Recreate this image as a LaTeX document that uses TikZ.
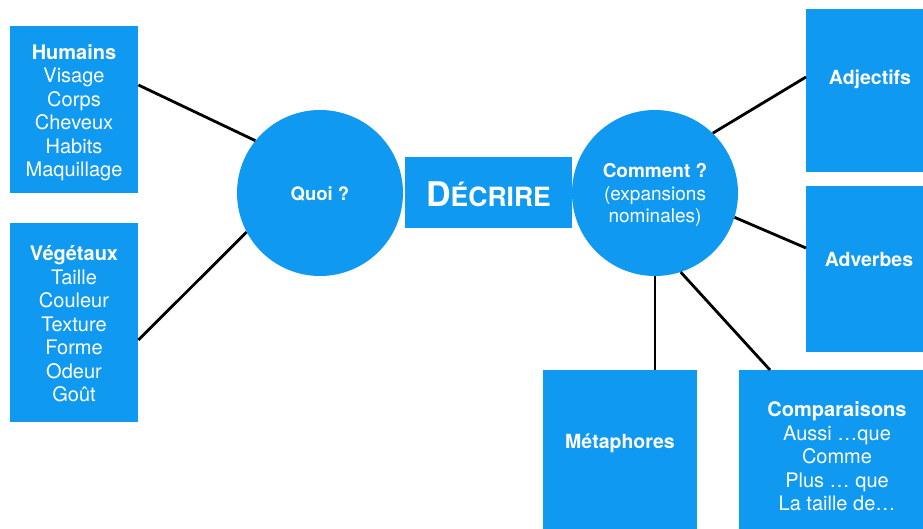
\documentclass[tikz,border=0pt]{standalone}
\usepackage{fontspec}
\setmainfont{TeX Gyre Heros}
\usetikzlibrary{calc}
\definecolor{blu}{RGB}{16,153,240}
\begin{document}
\begin{tikzpicture}[x=1pt,y=-1pt,
  box/.style={fill=blu, draw=none, inner sep=0pt, anchor=north west},
  circ/.style={circle, fill=blu, draw=none, minimum size=166pt, inner sep=0pt},
  txt/.style={text=white, align=center, font=\fontsize{20}{23.5}\selectfont, inner sep=0pt},
  conn/.style={draw=black, line width=2.8pt}]
\useasboundingbox (0,0) rectangle (923,528);
\clip (0,0) rectangle (923,528);
\fill[white] (0,0) rectangle (923,528);
% boxes
\node[box, minimum width=128pt, minimum height=167pt] (hum) at (10,26) {};
\node[box, minimum width=128pt, minimum height=199pt] (veg) at (10,223) {};
\node[box, minimum width=130pt, minimum height=163pt] (adj) at (806,9) {};
\node[box, minimum width=130pt, minimum height=166pt] (adv) at (806,186) {};
\node[box, minimum width=154pt, minimum height=170pt] (met) at (543,370) {};
\node[box, minimum width=196pt, minimum height=170pt] (comp) at (739,370) {};
\node[circ] (quoi) at (320,193) {};
\node[circ] (comm) at (655,193) {};
\node[fill=blu, minimum width=167pt, minimum height=71pt, inner sep=0pt] (decr) at (488.5,192.5) {};
% connectors
\draw[conn] ($(hum.north east)+(0,59)$) -- (quoi.141);
\draw[conn] ($(veg.north east)+(0,117)$) -- (quoi.208);
\draw[conn] (comm.46) -- ($(adj.north west)+(0,68)$);
\draw[conn] (comm.-17) -- ($(adv.north west)+(0,62)$);
\draw[conn] (comm.-90) -- (comm.-90 |- met.north);
\draw[conn] (comm.-72) -- ($(comp.north west)+(31,0)$);
% texts
\node[txt] (humt) at (74,112.5) {\textbf{Humains}\\Visage\\Corps\\Cheveux\\Habits\\Maquillage};
\node[txt] (vegt) at (74,324) {\textbf{Végétaux}\\Taille\\Couleur\\Texture\\Forme\\Odeur\\Goût};
\node[txt, font=\bfseries\fontsize{18.5}{22}\selectfont] (quoit) at (320,194) {Quoi ?};
\node[txt, font=\fontsize{19}{22.5}\selectfont] (commt) at (655,195) {\textbf{Comment ?}\\(expansions\\nominales)};
\node[txt] (decrt) at (488.5,194) {\bfseries\fontsize{34}{34}\selectfont D\fontsize{26.5}{26.5}\selectfont ÉCRIRE};
\node[txt, font=\bfseries\fontsize{19.5}{23.5}\selectfont] (adjt) at (870,79) {Adjectifs};
\node[txt, font=\bfseries\fontsize{19.5}{23.5}\selectfont] (advt) at (869,259) {Adverbes};
\node[txt, font=\bfseries\fontsize{19.5}{23.5}\selectfont] (mett) at (620,443) {Métaphores};
\node[txt] (compt) at (837,456.5) {\textbf{Comparaisons}\\Aussi …que\\Comme\\Plus … que\\La taille de…};
\end{tikzpicture}
\end{document}
